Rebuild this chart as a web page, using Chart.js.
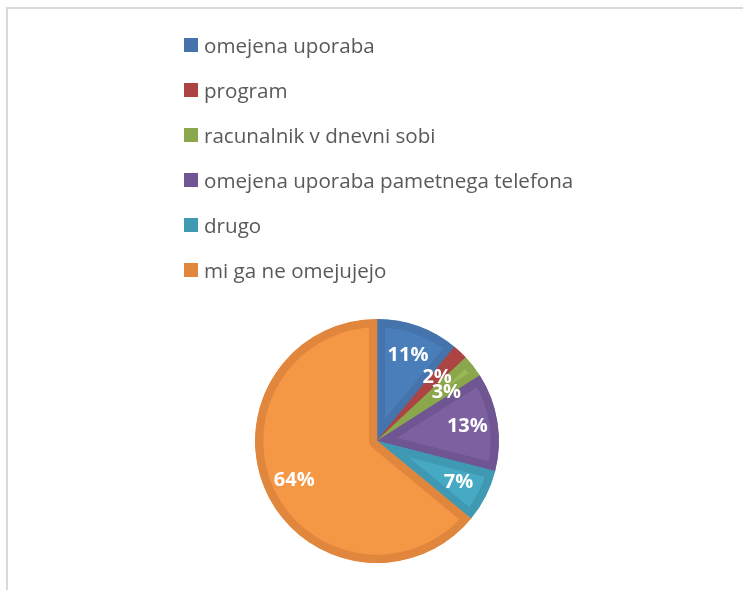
<!DOCTYPE html>
<html>
<head>
<meta charset="utf-8">
<script src="https://cdn.jsdelivr.net/npm/chart.js@4"></script>
<style>
  body { margin: 0; background: #fff; }
  #wrap { position: relative; width: 743px; height: 590px; overflow: hidden; }
  #frame { position: absolute; left: 6px; top: 7px; right: -2px; bottom: -2px;
           border-left: 2px solid #d9d9d9; border-top: 2px solid #d9d9d9; }
  #myChart { position: absolute; left: 0; top: 0; }
  #legend { position: absolute; left: 184px; top: 22px; margin: 0; padding: 0; list-style: none;
            font-family: "Open Sans", sans-serif; font-size: 20.6px; color: #595959; }
  #legend li { height: 45px; display: flex; align-items: center; white-space: nowrap; }
  #legend span.box { display: inline-block; width: 14px; height: 14px; margin-right: 6px; }
</style>
</head>
<body>
<div id="wrap">
  <div id="frame"></div>
  <canvas id="myChart" width="743" height="590"></canvas>
  <ul id="legend"></ul>
</div>
<script>
const labels = ['omejena uporaba', 'program', 'racunalnik v dnevni sobi',
  'omejena uporaba pametnega telefona', 'drugo', 'mi ga ne omejujejo'];
const values = [11, 2, 3, 13, 7, 64];
const fillColors = ['#4a7ebb', '#be4b48', '#98b954', '#7d60a0', '#46aac5', '#f59845'];
const edgeColors = ['#4573ab', '#ab4442', '#8aa74c', '#6f5591', '#3f99b2', '#e0863d'];

// percentage labels drawn at the middle of each arc
const sliceLabels = {
    id: 'sliceLabels',
    afterDatasetsDraw(chart) {
        const c = chart.ctx;
        const meta = chart.getDatasetMeta(0);
        const total = values.reduce((a, b) => a + b, 0);
        c.save();
        c.fillStyle = '#ffffff';
        c.font = 'bold 20px "Open Sans", sans-serif';
        c.textAlign = 'center';
        c.textBaseline = 'middle';
        meta.data.forEach((arc, i) => {
            const p = arc.getProps(['x', 'y', 'startAngle', 'endAngle', 'outerRadius']);
            const mid = (p.startAngle + p.endAngle) / 2;
            let r = p.outerRadius * 0.75;
            if (i === 1 || i === 2) r = p.outerRadius * 0.72;
            let x = p.x + Math.cos(mid) * r;
            let y = p.y + Math.sin(mid) * r;
            if (i === 2) y += 5;
            c.fillText(Math.round(values[i] / total * 100) + '%', x, y);
        });
        c.restore();
    }
};

const ctx = document.getElementById('myChart').getContext('2d');
const myChart = new Chart(ctx, {
    type: 'pie',
    data: {
        labels: labels,
        datasets: [{
            data: values,
            backgroundColor: fillColors,
            borderColor: edgeColors,
            borderWidth: 8,
            borderAlign: 'inner',
            hoverOffset: 0
        }]
    },
    options: {
        responsive: false,
        animation: false,
        layout: { padding: { left: 255, right: 244, top: 319, bottom: 27 } },
        plugins: {
            legend: { display: false },
            tooltip: { enabled: false }
        }
    },
    plugins: [sliceLabels]
});

// legend built from the chart's own label generator
const ul = document.getElementById('legend');
myChart.options.plugins.legend.labels.generateLabels(myChart).forEach((item, i) => {
    const li = document.createElement('li');
    const box = document.createElement('span');
    box.className = 'box';
    box.style.background = edgeColors[i];
    li.appendChild(box);
    li.appendChild(document.createTextNode(item.text));
    ul.appendChild(li);
});
</script>
</body>
</html>
